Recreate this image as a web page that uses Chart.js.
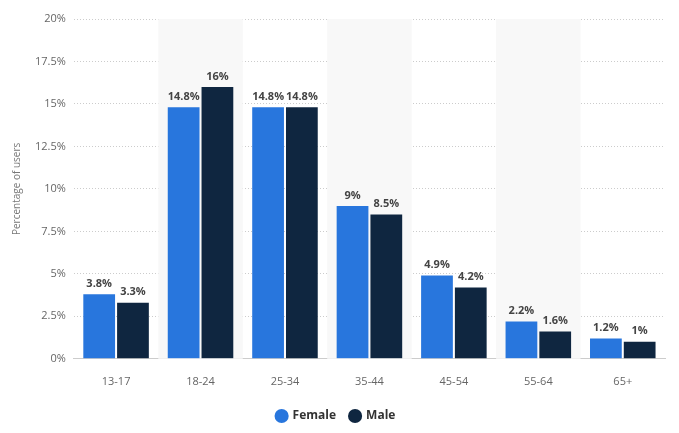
<!DOCTYPE html>
<html><head><meta charset="utf-8">
<script src="https://cdn.jsdelivr.net/npm/chart.js@4"></script>
<style>body{margin:0;background:#fff}#w{width:679px;height:433px}</style>
</head><body><div id="w"><canvas id="c"></canvas></div>
<script>
const categories=["13-17","18-24","25-34","35-44","45-54","55-64","65+"];
const female=[3.8,14.8,14.8,9,4.9,2.2,1.2];
const male=[3.3,16,14.8,8.5,4.2,1.6,1];
const yTicks=["0%","2.5%","5%","7.5%","10%","12.5%","15%","17.5%","20%"];
const bands={id:"bands",beforeDatasetsDraw(ch){const {ctx,chartArea:a,scales:{x}}=ch;ctx.save();ctx.fillStyle="#f8f8f8";
 categories.forEach((c,i)=>{if(i%2==1){const w=(x.getPixelForValue(1)-x.getPixelForValue(0));const cx=x.getPixelForValue(i);ctx.fillRect(cx-w/2,a.top,w,a.bottom-a.top);}});ctx.restore();}};
const labels={id:"labels",afterDatasetsDraw(ch){const ctx=ch.ctx;ctx.save();ctx.font="bold 11px 'Open Sans',sans-serif";ctx.fillStyle="#444";ctx.textAlign="center";ctx.textBaseline="bottom";
 ch.data.datasets.forEach((d,di)=>{ch.getDatasetMeta(di).data.forEach((b,i)=>{ctx.fillText(d.data[i]+"%",b.x,b.y-5);});});ctx.restore();}};
new Chart(document.getElementById("c"),{type:"bar",
data:{labels:categories,datasets:[
{label:"Female",data:female,backgroundColor:"#2876dd",categoryPercentage:0.8,barPercentage:0.94},
{label:"Male",data:male,backgroundColor:"#0f2640",categoryPercentage:0.8,barPercentage:0.94}]},
options:{responsive:true,maintainAspectRatio:false,animation:false,
layout:{padding:{top:19,right:14,left:7,bottom:1}},
plugins:{tooltip:{enabled:false},legend:{position:"bottom",labels:{usePointStyle:true,pointStyle:"circle",boxWidth:10,boxHeight:10,padding:14,color:"#333",font:{family:"'Open Sans',sans-serif",size:12,weight:"bold"}}}},
scales:{x:{grid:{display:false},border:{color:"#ccc"},ticks:{color:"#666",font:{family:"'Open Sans',sans-serif",size:11},padding:8}},
y:{min:0,max:20,ticks:{stepSize:2.5,color:"#666",padding:8,font:{family:"'Open Sans',sans-serif",size:11},callback:(v,i)=>yTicks[i]},
grid:{color:"#ccc",drawTicks:false},border:{display:false,dash:[1,2]},
title:{display:true,text:"Percentage of users",color:"#777",font:{family:"'Open Sans',sans-serif",size:10}}}}},
plugins:[bands,labels]});
</script></body></html>
